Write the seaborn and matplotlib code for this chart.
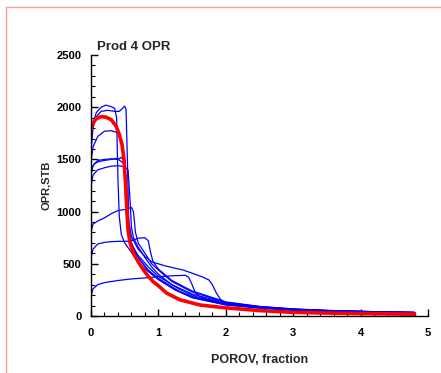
import matplotlib
matplotlib.use("Agg")
import matplotlib.pyplot as plt
from matplotlib.lines import Line2D
from matplotlib.ticker import MultipleLocator
import seaborn as sns
import pandas as pd

# ---------------- data ----------------
title = "Prod 4 OPR"
x_label = "POROV, fraction"
y_label = "OPR,STB"

run_a_x = [0, 0.03, 0.08, 0.15, 0.22, 0.30, 0.35, 0.38, 0.40, 0.42, 0.45, 0.50, 0.60, 0.75, 1.0, 1.25, 1.5, 2.0, 2.5, 3.0, 3.5, 4.0, 4.5, 4.8]
run_a_y = [1650, 1850, 1950, 2000, 2020, 2005, 1990, 1900, 1300, 950, 780, 700, 610, 480, 350, 250, 180, 110, 80, 60, 48, 40, 33, 30]

run_b_x = [0, 0.03, 0.08, 0.15, 0.25, 0.35, 0.42, 0.47, 0.50, 0.52, 0.54, 0.56, 0.60, 0.70, 0.85, 1.0, 1.25, 1.5, 2.0, 2.5, 3.0, 3.5, 4.0, 4.5, 4.8]
run_b_y = [1580, 1800, 1910, 1960, 1970, 1960, 1960, 1990, 2010, 1980, 1500, 900, 700, 560, 430, 350, 250, 175, 105, 75, 55, 45, 38, 32, 28]

run_c_x = [0, 0.03, 0.1, 0.2, 0.3, 0.38, 0.43, 0.47, 0.50, 0.53, 0.57, 0.62, 0.70, 0.85, 1.0, 1.3, 1.6, 2.0, 2.5, 3.0, 3.5, 4.0, 4.5, 4.8]
run_c_y = [1480, 1620, 1720, 1770, 1775, 1760, 1720, 1650, 1450, 1000, 760, 650, 560, 440, 360, 240, 165, 110, 78, 58, 47, 39, 33, 30]

run_d_x = [0, 0.03, 0.1, 0.2, 0.3, 0.4, 0.45, 0.48, 0.5, 0.52, 0.55, 0.6, 0.7, 0.85, 1.0, 1.3, 1.6, 2.0, 2.5, 3.0, 3.5, 4.0, 4.5, 4.8]
run_d_y = [1350, 1440, 1490, 1500, 1505, 1500, 1520, 1490, 1300, 1000, 800, 680, 580, 470, 380, 260, 175, 115, 80, 60, 48, 40, 34, 31]

run_e_x = [0, 0.05, 0.12, 0.2, 0.3, 0.38, 0.45, 0.5, 0.53, 0.56, 0.6, 0.7, 0.8, 0.9, 1.1, 1.37, 1.5, 1.65, 1.75, 1.8, 1.86, 1.92, 2.0, 2.2, 2.5, 3.0, 3.5, 4.0, 4.5, 4.8]
run_e_y = [1400, 1460, 1480, 1490, 1500, 1510, 1480, 1450, 1200, 900, 760, 640, 570, 520, 480, 440, 410, 375, 345, 300, 220, 160, 125, 100, 82, 63, 51, 43, 37, 34]

run_f_x = [0, 0.03, 0.1, 0.2, 0.3, 0.4, 0.5, 0.55, 0.58, 0.6, 0.63, 0.7, 0.8, 0.9, 1.0, 1.2, 1.5, 2.0, 2.5, 3.0, 3.5, 4.0, 4.5, 4.8]
run_f_y = [1240, 1350, 1400, 1420, 1435, 1440, 1430, 1400, 1100, 850, 750, 660, 560, 470, 400, 300, 210, 125, 88, 65, 52, 43, 36, 33]

run_g_x = [0, 0.03, 0.1, 0.2, 0.3, 0.4, 0.5, 0.55, 0.6, 0.63, 0.66, 0.7, 0.8, 0.9, 1.0, 1.2, 1.5, 2.0, 2.5, 3.0, 3.5, 4.0, 4.5, 4.8]
run_g_y = [800, 880, 910, 940, 980, 1010, 1020, 1030, 1040, 1000, 800, 700, 600, 500, 440, 330, 230, 130, 90, 66, 53, 44, 37, 34]

run_i_x = [0, 0.03, 0.1, 0.2, 0.3, 0.4, 0.5, 0.6, 0.7, 0.8, 0.85, 0.88, 0.92, 1.0, 1.2, 1.5, 2.0, 2.5, 3.0, 3.5, 4.0, 4.5, 4.8]
run_i_y = [560, 640, 690, 705, 712, 715, 715, 720, 745, 750, 720, 620, 520, 450, 340, 240, 135, 92, 68, 54, 45, 38, 35]

run_j_x = [0, 0.03, 0.1, 0.2, 0.4, 0.6, 0.8, 1.0, 1.2, 1.4, 1.45, 1.5, 1.55, 1.6, 1.7, 2.0, 2.5, 3.0, 3.5, 4.0, 4.5, 4.8]
run_j_y = [190, 260, 300, 320, 340, 355, 365, 375, 385, 390, 370, 300, 220, 190, 165, 120, 85, 63, 51, 43, 37, 34]

obs_x = [0, 0.03, 0.08, 0.15, 0.22, 0.30, 0.37, 0.42, 0.46, 0.49, 0.51, 0.53, 0.55, 0.58, 0.63, 0.7, 0.78, 0.85, 0.92, 1.0, 1.12, 1.32, 1.62, 2.0, 2.5, 3.0, 3.5, 4.0, 4.5, 4.8]
obs_y = [1790, 1850, 1890, 1910, 1905, 1880, 1820, 1740, 1640, 1500, 1300, 1050, 820, 700, 600, 520, 440, 380, 330, 290, 220, 155, 105, 78, 52, 35, 28, 23, 20, 18]

x_ticks = [0, 1, 2, 3, 4, 5]
y_ticks = [0, 500, 1000, 1500, 2000, 2500]

runs = {
    "A": (run_a_x, run_a_y), "B": (run_b_x, run_b_y), "C": (run_c_x, run_c_y),
    "D": (run_d_x, run_d_y), "E": (run_e_x, run_e_y), "F": (run_f_x, run_f_y),
    "G": (run_g_x, run_g_y), "I": (run_i_x, run_i_y), "J": (run_j_x, run_j_y),
}

frames = []
for name, (xs, ys) in runs.items():
    frames.append(pd.DataFrame({"run": name, "x": xs, "y": ys}))
blue_df = pd.concat(frames, ignore_index=True)
red_df = pd.DataFrame({"x": obs_x, "y": obs_y})

# ---------------- plot ----------------
sns.set_style("ticks")
plt.rcParams["font.family"] = ["Liberation Sans", "DejaVu Sans"]
plt.rcParams["font.weight"] = "bold"

fig = plt.figure(figsize=(4.41, 3.73), dpi=100)
W, H = 441, 373
ax = fig.add_axes([91 / W, 1 - 316 / H, (428 - 91) / W, (316 - 55) / H])

sns.lineplot(data=blue_df, x="x", y="y", units="run", estimator=None, sort=False,
             color="#0000ff", linewidth=0.9, ax=ax, legend=False)
sns.lineplot(data=red_df, x="x", y="y", estimator=None, sort=False,
             color="#ff0000", linewidth=2.6, ax=ax, legend=False)

ax.set_xlim(0, 5)
ax.set_ylim(0, 2500)
ax.set_xticks(x_ticks)
ax.set_yticks(y_ticks)
ax.xaxis.set_minor_locator(MultipleLocator(0.2))
ax.yaxis.set_minor_locator(MultipleLocator(100))
sns.despine(ax=ax)
for s in ("left", "bottom"):
    ax.spines[s].set_linewidth(1.0)
    ax.spines[s].set_color("black")
ax.tick_params(which="major", direction="in", length=5, width=1, labelsize=8, pad=7, colors="black")
ax.tick_params(which="minor", direction="in", length=3, width=0.8, colors="black")
ax.tick_params(axis="x", which="major", pad=9)
for lab in ax.get_xticklabels() + ax.get_yticklabels():
    lab.set_fontweight("bold")

ax.set_xlabel(x_label, fontsize=9, fontweight="bold")
ax.set_ylabel(y_label, fontsize=8, fontweight="bold")
ax.xaxis.set_label_coords(0.5, -0.145)
ax.yaxis.set_label_coords(-0.118, 0.5)

fig.text(97 / W, 1 - 50 / H, title, fontsize=9.5, fontweight="bold", ha="left", va="baseline")

# pink frame lines
pink = "#ff9999"
fig.add_artist(Line2D([6 / W, 1.0], [1 - 7 / H, 1 - 7 / H], color=pink, lw=1.0, transform=fig.transFigure))
fig.add_artist(Line2D([6 / W, 6 / W], [0, 1 - 7 / H], color=pink, lw=1.0, transform=fig.transFigure))

fig.savefig("out.png", dpi=100)
